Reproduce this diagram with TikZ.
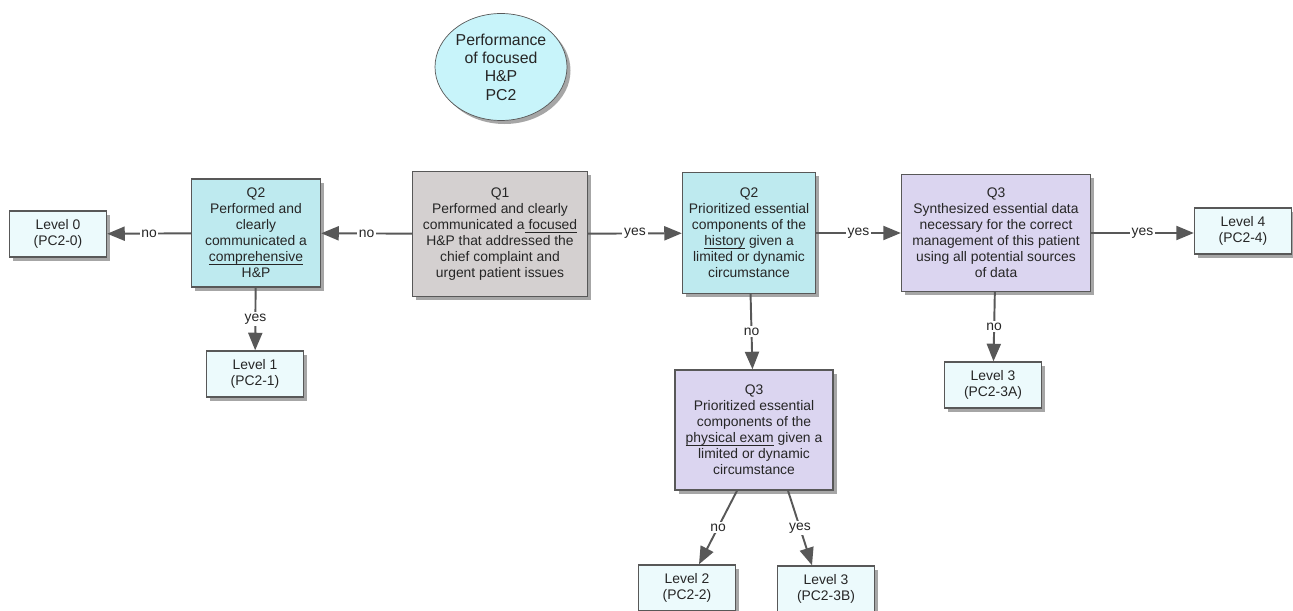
\documentclass[tikz,border=0pt]{standalone}
\usepackage{fontspec}
\setmainfont{Liberation Sans}
\usepackage{xcolor}
\usepackage{tikz}
\usetikzlibrary{arrows.meta, shapes.geometric, shadows}

\definecolor{edgegray}{RGB}{88,88,88}
\definecolor{qcyan}{RGB}{190,234,239}
\definecolor{qgray}{RGB}{212,208,208}
\definecolor{qpurple}{RGB}{219,213,240}
\definecolor{lvfill}{RGB}{236,250,252}
\definecolor{ovalfill}{RGB}{200,244,250}

\newcommand{\ul}[1]{\underline{\smash{#1}}}

\begin{document}
\begin{tikzpicture}[
  x=0.02cm, y=-0.02cm,
  every node/.style={font=\fontsize{7.9}{9.1}\selectfont, text=black!85},
  qbox/.style={draw=edgegray, thick, align=center, inner sep=2pt,
               drop shadow={shadow xshift=2pt, shadow yshift=-2pt, fill=gray!70, opacity=1}},
  lvbox/.style={qbox, fill=lvfill, minimum width=1.94cm, minimum height=0.92cm},
  arr/.style={-{Triangle[length=10pt, width=8pt]}, line width=1.1pt, draw=edgegray},
  lbl/.style={fill=white, inner sep=1pt}
]
\useasboundingbox (0,0) rectangle (1293,611);

% title oval
\node[ellipse, draw=edgegray, fill=ovalfill, align=center, minimum width=2.64cm, minimum height=2.14cm,
      font=\fontsize{9}{10.4}\selectfont, inner sep=0pt,
      drop shadow={shadow xshift=2pt, shadow yshift=-2pt, fill=gray!70, opacity=1}] (top) at (501,67)
  {Performance\\of focused\\H\&P\\PC2};

% question boxes
\node[qbox, fill=qgray, minimum width=3.5cm, minimum height=2.5cm] (q1) at (500,234)
  {Q1\\Performed and clearly\\communicated a\ul{ focused}\\H\&P that addressed the\\chief complaint and\\urgent patient issues};
\node[qbox, fill=qcyan, minimum width=2.58cm, minimum height=2.16cm] (q2a) at (256,233)
  {Q2\\Performed and\\clearly\\communicated a\\\ul{comprehensive}\\H\&P};
\node[qbox, fill=qcyan, minimum width=2.66cm, minimum height=2.42cm] (q2b) at (749,233)
  {Q2\\Prioritized essential\\components of the\\\ul{history} given a\\limited or dynamic\\circumstance};
\node[qbox, fill=qpurple, minimum width=3.78cm, minimum height=2.34cm] (q3a) at (996,233)
  {Q3\\Synthesized essential data\\necessary for the correct\\management of this patient\\using all potential sources\\of data};
\node[qbox, fill=qpurple, minimum width=3.16cm, minimum height=2.4cm] (q3b) at (754,430)
  {Q3\\Prioritized essential\\components of the\\\ul{physical exam} given a\\limited or dynamic\\circumstance};

% level boxes
\node[lvbox] (lv0) at (58,234) {Level 0\\(PC2-0)};
\node[lvbox] (lv1) at (255,374) {Level 1\\(PC2-1)};
\node[lvbox] (lv4) at (1243,231) {Level 4\\(PC2-4)};
\node[lvbox] (lv3a) at (993,385) {Level 3\\(PC2-3A)};
\node[lvbox] (lv2) at (687,588) {Level 2\\(PC2-2)};
\node[lvbox] (lv3b) at (826,589) {Level 3\\(PC2-3B)};

% connectors
\draw[arr] (q1) -- node[lbl]{no} (q2a);
\draw[arr] (q2a) -- node[lbl]{no} (lv0);
\draw[arr] (q2a) -- node[lbl]{yes} (lv1);
\draw[arr] (q1) -- node[lbl]{yes} (q2b);
\draw[arr] (q2b) -- node[lbl]{yes} (q3a);
\draw[arr] (q3a.east) -- node[lbl]{yes} (lv4.west |- q3a.east);
\draw[arr] (q3a) -- node[lbl]{no} (lv3a);
\draw[arr] (q2b) -- node[lbl]{no} (q3b);
\draw[arr] ([xshift=-0.34cm]q3b.south) -- node[lbl]{no} ([xshift=0.24cm]lv2.north);
\draw[arr] ([xshift=0.68cm]q3b.south) -- node[lbl]{yes} ([xshift=-0.28cm]lv3b.north);
\end{tikzpicture}
\end{document}
